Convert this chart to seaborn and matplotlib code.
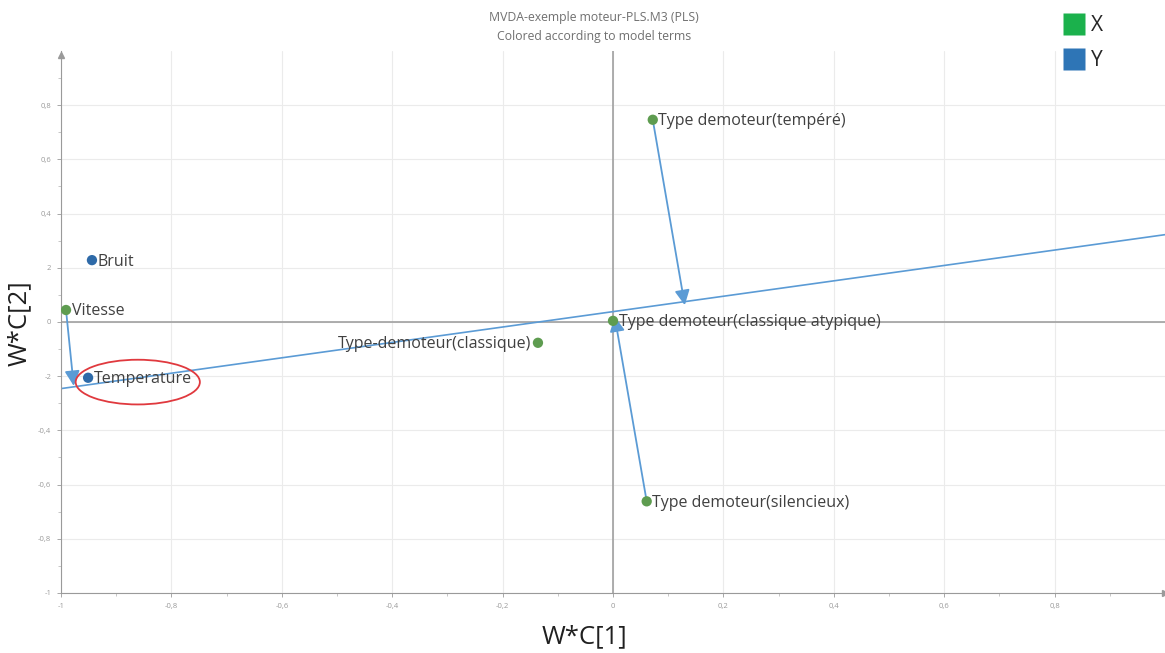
import matplotlib.pyplot as plt
import seaborn as sns
import pandas as pd
from matplotlib.patches import Ellipse
from matplotlib.lines import Line2D

# loadings
names = ['Bruit', 'Vitesse', 'Temperature', 'Type-demoteur(classique)',
         'Type demoteur(tempéré)', 'Type demoteur(classique atypique)',
         'Type demoteur(silencieux)']
wc1 = [-0.944, -0.991, -0.951, -0.136, 0.072, 0.000, 0.061]
wc2 = [0.228, 0.044, -0.206, -0.077, 0.746, 0.004, -0.662]
term = ['Y', 'X', 'Y', 'X', 'X', 'X', 'X']
label_side = ['right', 'right', 'right', 'left', 'right', 'right', 'right']

# projection line and arrows
line_x = [-1.0, 1.0]
line_y = [-0.246, 0.322]
arrow_from = ['Vitesse', 'Type demoteur(tempéré)', 'Type demoteur(silencieux)']
arrow_end_x = [-0.977, 0.130, 0.003]
arrow_end_y = [-0.236, 0.062, 0.020]

# highlight ellipse around Temperature
ell_center = (-0.861, -0.222)
ell_size = (0.225, 0.165)

xticks = [-1, -0.8, -0.6, -0.4, -0.2, 0, 0.2, 0.4, 0.6, 0.8]
xticklabels = ['-1', '-0,8', '-0,6', '-0,4', '-0,2', '0', '0,2', '0,4', '0,6', '0,8']
yticks = [-1, -0.8, -0.6, -0.4, -0.2, 0, 0.2, 0.4, 0.6, 0.8]
yticklabels = ['-1', '-0,8', '-0,6', '-0,4', '-2', '0', '2', '0,4', '0,6', '0,8']

df = pd.DataFrame({'name': names, 'wc1': wc1, 'wc2': wc2, 'term': term})

sns.set_style('white')
plt.rcParams['font.family'] = ['Open Sans', 'DejaVu Sans']

fig = plt.figure(figsize=(11.65, 6.53), dpi=100)
ax = fig.add_axes([0.0524, 0.092, 0.9476, 0.830])

ax.set_xlim(-1.0, 1.0)
ax.set_ylim(-1.0, 1.0)
ax.set_xticks(xticks)
ax.set_xticklabels(xticklabels)
ax.set_yticks(yticks)
ax.set_yticklabels(yticklabels)
ax.set_xticks([v / 10 for v in range(-9, 10, 2)], minor=True)
ax.set_yticks([v / 10 for v in range(-9, 10, 2)], minor=True)
ax.tick_params(axis='both', which='major', labelsize=5.5, colors='#9a9a9a',
               length=3, width=0.6, pad=4)
ax.tick_params(axis='both', which='minor', length=2, width=0.5, colors='#b0b0b0')
ax.tick_params(axis='x', which='both', bottom=True)
ax.tick_params(axis='y', which='both', left=True)
ax.grid(True, which='major', color='#ebebeb', linewidth=0.8)
ax.set_axisbelow(True)

for side in ['top', 'right']:
    ax.spines[side].set_visible(False)
for side in ['left', 'bottom']:
    ax.spines[side].set_color('#9a9a9a')
    ax.spines[side].set_linewidth(0.8)

# axis arrow heads
ax.plot(1, -1, marker='>', color='#9a9a9a', markersize=4, clip_on=False)
ax.plot(-1, 0.985, marker='^', color='#9a9a9a', markersize=4, clip_on=False)

# zero lines
ax.axhline(0, color='#a0a0a0', linewidth=1.2, zorder=1)
ax.axvline(0, color='#a0a0a0', linewidth=1.2, zorder=1)

# projection line
sns.lineplot(x=line_x, y=line_y, ax=ax, color='#5b9bd5', linewidth=1.2,
             zorder=2)

# arrows
for nm, ex, ey in zip(arrow_from, arrow_end_x, arrow_end_y):
    i = names.index(nm)
    ax.annotate('', xy=(ex, ey), xytext=(wc1[i], wc2[i]),
                arrowprops=dict(arrowstyle='-|>,head_length=0.9,head_width=0.45',
                                color='#5b9bd5', lw=1.3,
                                shrinkA=0, shrinkB=0),
                zorder=3)

sns.scatterplot(data=df, x='wc1', y='wc2', hue='term',
                palette={'X': '#5e9c50', 'Y': '#2e6aa8'}, s=55,
                edgecolor='none', legend=False, ax=ax, zorder=4)

for nm, x, y, side in zip(names, wc1, wc2, label_side):
    if side == 'right':
        ax.annotate(nm, (x, y), xytext=(4, -1), textcoords='offset points',
                    ha='left', va='center', fontsize=11.5, color='#404040')
    else:
        ax.annotate(nm, (x, y), xytext=(-5, -1), textcoords='offset points',
                    ha='right', va='center', fontsize=11.5, color='#404040')

ax.add_patch(Ellipse(ell_center, ell_size[0], ell_size[1], fill=False,
                     edgecolor='#e0393e', linewidth=1.3, zorder=5))

ax.set_xlabel('')
ax.set_ylabel('')
fig.text(0.502, 0.025, 'W*C[1]', ha='center', va='center', fontsize=18.5,
         color='#202020')
fig.text(0.017, 0.505, 'W*C[2]', ha='center', va='center', fontsize=18.5,
         color='#202020', rotation=90)

fig.text(0.51, 0.973, 'MVDA-exemple moteur-PLS.M3 (PLS)', ha='center',
         va='center', fontsize=8.8, color='#707070')
fig.text(0.51, 0.944, 'Colored according to model terms', ha='center',
         va='center', fontsize=8.8, color='#707070')

handles = [Line2D([], [], marker='s', linestyle='none', markersize=16,
                  markerfacecolor='#1bb14c', markeredgecolor='none', label='X'),
           Line2D([], [], marker='s', linestyle='none', markersize=16,
                  markerfacecolor='#2e75b6', markeredgecolor='none', label='Y')]
fig.legend(handles=handles, loc='upper left', bbox_to_anchor=(0.897, 1.005),
           frameon=False, fontsize=15, handletextpad=0.3, labelspacing=0.65,
           handlelength=1.0)

fig.savefig('out.png', dpi=100)
